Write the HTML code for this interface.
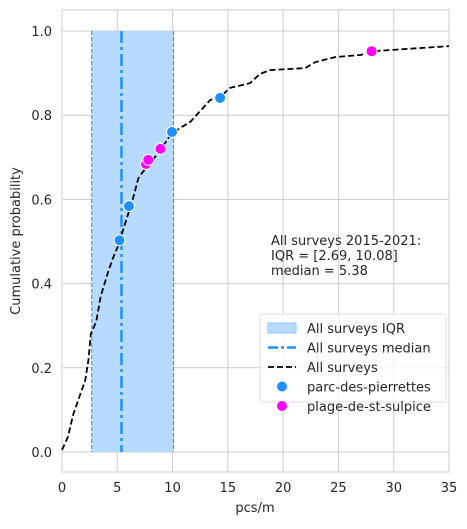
<!DOCTYPE html>
<html><head><meta charset="utf-8"><style>
body{margin:0;background:#fff;font-family:"DejaVu Sans","Liberation Sans",sans-serif}
svg text{font-family:"DejaVu Sans","Liberation Sans",sans-serif;fill:#262626}
</style></head><body>
<svg id="c" width="467" height="525"></svg>
<script>
const xTicks=[0,5,10,15,20,25,30,35];
const yTicks=[0,0.2,0.4,0.6,0.8,1.0];
const ecdfX=[0,0.54,1,1.6,2.1,2.4,2.6,3.1,3.5,4.2,4.6,5.0,5.2,5.8,6.4,6.9,7.3,7.96,8.9,9.8,10.7,11.6,12.5,13.4,14.3,15.2,17,17.9,18.8,22,22.9,24.7,27,28.1,35];
const ecdfY=[0.005,0.036,0.088,0.133,0.17,0.22,0.28,0.31,0.37,0.43,0.46,0.485,0.50,0.55,0.60,0.65,0.665,0.686,0.717,0.753,0.77,0.784,0.81,0.836,0.843,0.865,0.876,0.898,0.907,0.912,0.926,0.938,0.943,0.952,0.964];
const parcX=[5.2,6.06,9.95,14.3];
const parcY=[0.503,0.584,0.760,0.841];
const plageX=[7.6,7.8,8.9,28.0];
const plageY=[0.684,0.694,0.72,0.952];
const iqr=[2.69,10.08];
const median=5.38;
const NS="http://www.w3.org/2000/svg";
const svg=document.getElementById('c');
const L=62,R=449,T=10,B=472;
const sx=v=>L+(v/35)*(R-L);
const sy=v=>452-v*421;
const FS=13;
function el(t,a,p){const e=document.createElementNS(NS,t);for(const k in a)e.setAttribute(k,a[k]);(p||svg).appendChild(e);return e;}
const frame=el('rect',{x:L,y:T,width:R-L,height:B-T,fill:'#fff',stroke:'#ccc'});


xTicks.forEach(t=>{
 const g=el('line',{x1:sx(t),x2:sx(t),y1:T,y2:B,stroke:'#ccc'});
 
 
 const tx=el('text',{x:sx(t),y:492,'font-size':FS,'text-anchor':'middle'});tx.textContent=t;
 
 
});
yTicks.forEach(t=>{
 const g=el('line',{x1:L,x2:R,y1:sy(t),y2:sy(t),stroke:'#ccc'});
 
 
 const tx=el('text',{x:52,y:sy(t)+5,'font-size':FS,'text-anchor':'end'});tx.textContent=t.toFixed(1);
 
 
});
const band=el('rect',{x:sx(iqr[0]),y:sy(1),width:sx(iqr[1])-sx(iqr[0]),height:sy(0)-sy(1),fill:'#b7dbff'});


iqr.forEach(v=>{const l=el('line',{x1:sx(v),x2:sx(v),y1:sy(1),y2:sy(0),stroke:'#3a86d6','stroke-width':1,'stroke-dasharray':'4,2'});
 
 });
const med=el('line',{x1:sx(median),x2:sx(median),y1:sy(1),y2:sy(0),stroke:'#1e90ff','stroke-width':2.5,'stroke-dasharray':'12,4,3,4'});


const path=el('polyline',{points:ecdfX.map((x,i)=>sx(x)+','+sy(ecdfY[i])).join(' '),fill:'none',stroke:'#000','stroke-width':1.8,'stroke-dasharray':'6,3'});


parcX.forEach((x,i)=>{const c=el('circle',{cx:sx(x),cy:sy(parcY[i]),r:5.5,fill:'#1e90ff',stroke:'#fff','stroke-width':1});
 
 });
plageX.forEach((x,i)=>{const c=el('circle',{cx:sx(x),cy:sy(plageY[i]),r:5.5,fill:'#ff00ff',stroke:'#fff','stroke-width':1});
 
 });
const ann=el('text',{x:271,y:245,'font-size':FS});


['All surveys 2015-2021:','IQR = [2.69, 10.08]','median = 5.38'].forEach((s,i)=>{const ts=el('tspan',{x:271,dy:i?15:0},ann);ts.textContent=s;});
const xl=el('text',{x:255,y:512,'font-size':FS,'text-anchor':'middle'});xl.textContent='pcs/m';


const yl=el('text',{x:20,y:241,'font-size':FS,'text-anchor':'middle',transform:'rotate(-90 20 241)'});yl.textContent='Cumulative probability';


const lg=el('g',{});


el('rect',{x:260,y:314,width:186,height:88,rx:3,fill:'#fff','fill-opacity':0.8,stroke:'#ddd'},lg);
const items=['All surveys IQR','All surveys median','All surveys','parc-des-pierrettes','plage-de-st-sulpice'];
items.forEach((s,i)=>{const y=328+i*19.5;
 if(i==0)el('rect',{x:268,y:y-5,width:28,height:10,fill:'#b7dbff',stroke:'#8ec4f5'},lg);
 if(i==1)el('line',{x1:268,x2:296,y1:y,y2:y,stroke:'#1e90ff','stroke-width':2.5,'stroke-dasharray':'10,3,3,3'},lg);
 if(i==2)el('line',{x1:268,x2:296,y1:y,y2:y,stroke:'#000','stroke-width':1.8,'stroke-dasharray':'6,3'},lg);
 if(i==3)el('circle',{cx:282,cy:y,r:5,fill:'#1e90ff'},lg);
 if(i==4)el('circle',{cx:282,cy:y,r:5,fill:'#ff00ff'},lg);
 const t=el('text',{x:307,y:y+5,'font-size':FS},lg);t.textContent=s;
 
 
});
</script>
</body></html>
